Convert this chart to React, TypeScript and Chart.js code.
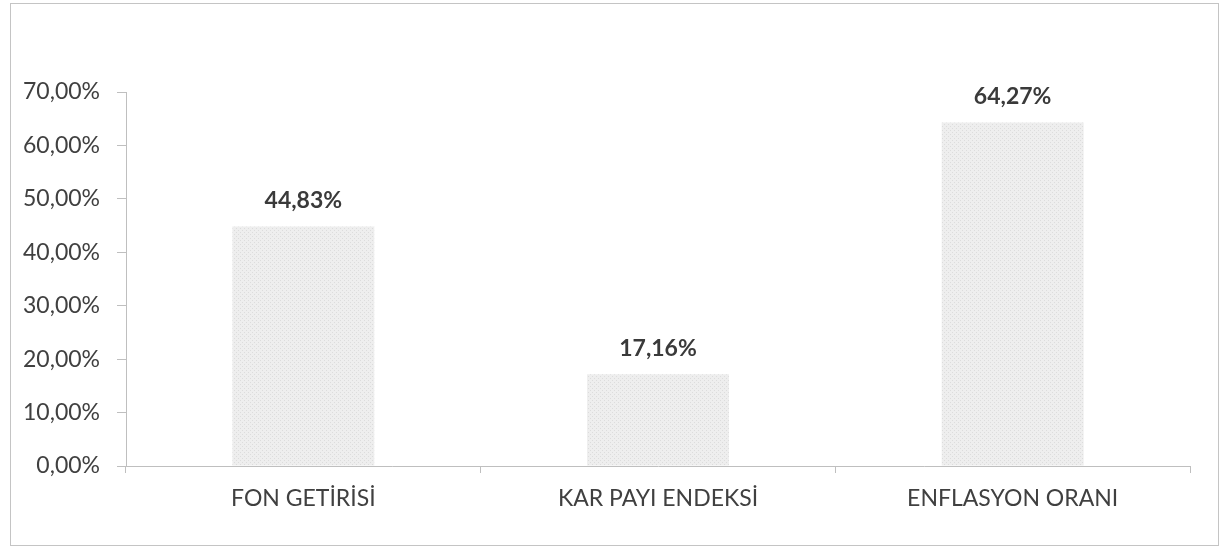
import React, { useEffect, useRef } from 'react';
import { Chart, registerables } from 'chart.js';

Chart.register(...registerables);

const categories: string[] = ['FON GETİRİSİ', 'KAR PAYI ENDEKSİ', 'ENFLASYON ORANI'];
const values: number[] = [44.83, 17.16, 64.27];
const yMin = 0;
const yMax = 70;
const yStep = 10;

const fmt = (v: number) => v.toFixed(2).replace('.', ',') + '%';

function makePattern(): CanvasPattern | string {
  const c = document.createElement('canvas');
  c.width = 4;
  c.height = 4;
  const g = c.getContext('2d');
  if (!g) return '#e6e6e6';
  g.fillStyle = '#eeeeee';
  g.fillRect(0, 0, 4, 4);
  g.fillStyle = '#dcdcdc';
  g.fillRect(0, 0, 1, 1);
  g.fillRect(2, 2, 1, 1);
  const p = g.createPattern(c, 'repeat');
  return p || '#e6e6e6';
}

const borderPlugin = {
  id: 'outerBorder',
  beforeDraw(chart: any) {
    const ctx = chart.ctx;
    ctx.save();
    ctx.fillStyle = '#ffffff';
    ctx.fillRect(0, 0, chart.width, chart.height);
    ctx.strokeStyle = '#c4c4c4';
    ctx.lineWidth = 1;
    ctx.strokeRect(10.5, 3.5, 1208, 542);
    ctx.restore();
  },
};

const valueLabelPlugin = {
  id: 'valueLabels',
  afterDatasetsDraw(chart: any) {
    const ctx = chart.ctx;
    const meta = chart.getDatasetMeta(0);
    ctx.save();
    ctx.font = 'bold 23px Lato';
    ctx.fillStyle = '#3a3a3a';
    ctx.textAlign = 'center';
    ctx.textBaseline = 'middle';
    meta.data.forEach((bar: any, i: number) => {
      ctx.fillText(fmt(values[i]), bar.x, bar.y - 26);
    });
    ctx.restore();
  },
};

export default function App() {
  const ref = useRef<HTMLCanvasElement>(null);

  useEffect(() => {
    if (!ref.current) return;
    const chart = new Chart(ref.current, {
      type: 'bar',
      data: {
        labels: categories,
        datasets: [
          {
            data: values,
            backgroundColor: makePattern() as any,
            borderWidth: 0,
            barPercentage: 0.4,
            categoryPercentage: 1,
          },
        ],
      },
      options: {
        animation: false,
        responsive: false,
        devicePixelRatio: 1,
        layout: { padding: { top: 92, right: 38, left: 0, bottom: 0 } },
        plugins: {
          legend: { display: false },
          tooltip: { enabled: false },
          title: { display: false },
        },
        scales: {
          x: {
            offset: true,
            grid: {
              drawOnChartArea: false,
              drawTicks: true,
              tickLength: 7,
              color: '#bfbfbf',
              offset: true,
            },
            border: { color: '#bfbfbf' },
            ticks: {
              color: '#404040',
              font: { family: 'Lato', size: 23 },
              padding: 12,
              maxRotation: 0,
            },
            afterFit: (scale: any) => {
              scale.height = 86;
            },
          },
          y: {
            min: yMin,
            max: yMax,
            grid: {
              drawOnChartArea: false,
              drawTicks: true,
              tickLength: 9,
              color: '#bfbfbf',
            },
            border: { color: '#bfbfbf' },
            ticks: {
              stepSize: yStep,
              color: '#404040',
              font: { family: 'Lato', size: 23 },
              padding: 17,
              callback: (v: any) => fmt(Number(v)),
            },
            afterFit: (scale: any) => {
              scale.width = 126;
            },
          },
        },
      },
      plugins: [borderPlugin, valueLabelPlugin],
    });
    return () => chart.destroy();
  }, []);

  return (
    <div style={{ position: 'fixed', left: 0, top: 0, width: 1228, height: 552, background: '#fff' }}>
      <canvas ref={ref} width={1228} height={552} style={{ display: 'block', width: 1228, height: 552 }} />
    </div>
  );
}
